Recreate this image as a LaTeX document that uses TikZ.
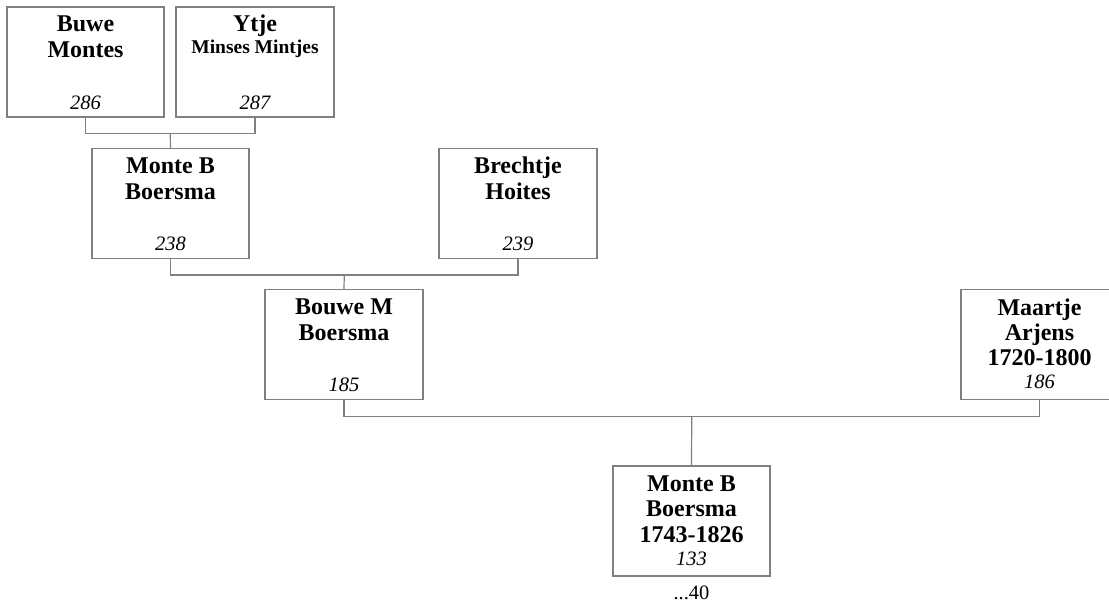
\documentclass[tikz,border=0pt]{standalone}
\usepackage{fontspec}
\setmainfont{Liberation Serif}
\usetikzlibrary{calc}
\definecolor{linegray}{RGB}{128,128,128}
\begin{document}
\begin{tikzpicture}[x=1pt,y=-1pt,
  box/.style={draw=linegray, line width=1.2pt, minimum width=157pt, minimum height=110pt, inner sep=0pt},
  nm/.style={font=\fontsize{24}{26}\selectfont\bfseries, anchor=base, inner sep=0pt},
  nmsmall/.style={font=\fontsize{19.5}{22}\selectfont\bfseries, anchor=base, inner sep=0pt},
  num/.style={font=\fontsize{20.5}{24}\selectfont\itshape, anchor=base, inner sep=0pt},
  plain/.style={font=\fontsize{20.5}{24}\selectfont, anchor=base, inner sep=0pt},
  link/.style={draw=linegray, line width=1.2pt}]
\useasboundingbox (0,0) rectangle (1109,604);
\clip (0,0) rectangle (1109,604);

% boxes
\node[box] (b286) at (85.5,62) {};
\node[box, minimum width=158pt] (b287) at (255,62) {};
\node[box] (b238) at (170.5,203.5) {};
\node[box, minimum width=158pt] (b239) at (518,203.5) {};
\node[box, minimum width=158pt] (b185) at (344,344.5) {};
\node[box] (b186) at (1039.5,344.5) {};
\node[box] (b133) at (691.5,521) {};

% texts
\node[nm] (t286a) at ($(b286.north)+(0,25.5)$) {Buwe};
\node[nm] (t286b) at ($(b286.north)+(0,51.5)$) {Montes};
\node[num] (t286n) at ($(b286.south)+(0,-8.5)$) {286};

\node[nm] (t287a) at ($(b287.north)+(0,25.5)$) {Ytje};
\node[nmsmall] (t287b) at ($(b287.north)+(0,47.5)$) {Minses Mintjes};
\node[num] (t287n) at ($(b287.south)+(0,-8.5)$) {287};

\node[nm] (t238a) at ($(b238.north)+(0,25.5)$) {Monte B};
\node[nm] (t238b) at ($(b238.north)+(0,51.5)$) {Boersma};
\node[num] (t238n) at ($(b238.south)+(0,-8.5)$) {238};

\node[nm] (t239a) at ($(b239.north)+(0,25.5)$) {Brechtje};
\node[nm] (t239b) at ($(b239.north)+(0,51.5)$) {Hoites};
\node[num] (t239n) at ($(b239.south)+(0,-8.5)$) {239};

\node[nm] (t185a) at ($(b185.north)+(0,25.5)$) {Bouwe M};
\node[nm] (t185b) at ($(b185.north)+(0,51.5)$) {Boersma};
\node[num] (t185n) at ($(b185.south)+(0,-8.5)$) {185};

\node[nm] (t186a) at ($(b186.north)+(0,26.5)$) {Maartje};
\node[nm] (t186b) at ($(b186.north)+(0,51.5)$) {Arjens};
\node[nm] (t186c) at ($(b186.north)+(0,77)$) {1720-1800};
\node[num] (t186n) at ($(b186.north)+(0,100)$) {186};

\node[nm] (t133a) at ($(b133.north)+(0,26.5)$) {Monte B};
\node[nm] (t133b) at ($(b133.north)+(0,51.5)$) {Boersma};
\node[nm] (t133c) at ($(b133.north)+(0,77)$) {1743-1826};
\node[num] (t133n) at ($(b133.north)+(0,100)$) {133};
\node[plain] (more) at ($(b133.south)+(0,23)$) {...40};

% connectors
\coordinate (j1) at ($(b286.south)!0.5!(b287.south)+(0,16)$);
\draw[link] (b286.south) -- ++(0,16) -| (b287.south);
\draw[link] (j1) -- (b238.north);

\coordinate (j2) at ($(b238.south)!0.5!(b239.south)+(0,16)$);
\draw[link] (b238.south) -- ++(0,16) -| (b239.south);
\draw[link] (j2) -- (b185.north);

\coordinate (j3) at ($(b185.south)!0.5!(b186.south)+(0,16)$);
\draw[link] (b185.south) -- ++(0,16) -| (b186.south);
\draw[link] (j3) -- (b133.north);
\end{tikzpicture}
\end{document}
